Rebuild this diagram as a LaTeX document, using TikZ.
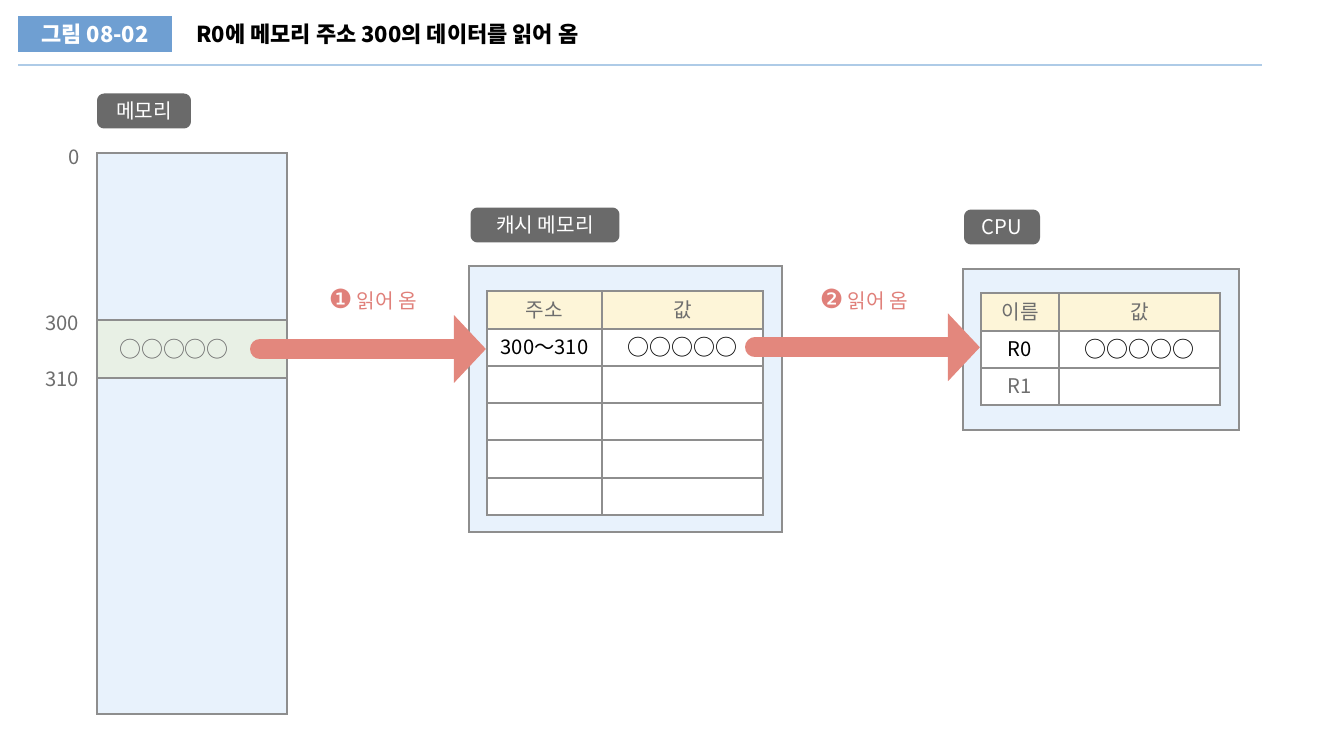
\documentclass[tikz,border=0pt]{standalone}
\usepackage{fontspec}
\setmainfont{Noto Sans CJK KR}
\newfontfamily\dingfont{DejaVu Sans}
\usetikzlibrary{positioning}
\usetikzlibrary{arrows.meta}

\definecolor{titleblue}{HTML}{6F9FD2}
\definecolor{ruleblue}{HTML}{AECBE7}
\definecolor{taggray}{HTML}{6A6A6A}
\definecolor{boxblue}{HTML}{E8F2FC}
\definecolor{bandgreen}{HTML}{E8F0E5}
\definecolor{headyellow}{HTML}{FDF5D8}
\definecolor{edgegray}{HTML}{8E8E8E}
\definecolor{arrowred}{HTML}{E3877D}
\definecolor{labelred}{HTML}{E0807A}
\definecolor{textgray}{HTML}{6E6E6E}

\tikzset{
  txt/.style={font=\fontsize{11.5}{13}\selectfont},
  tag/.style={txt,fill=taggray,text=white,rounded corners=4pt,minimum height=0.7cm,inner sep=0pt},
  box/.style={draw=edgegray,line width=1.3pt,fill=boxblue},
  cell/.style={txt,draw=edgegray,line width=1.2pt,fill=white,minimum height=0.746cm,inner sep=0pt},
  headcell/.style={cell,fill=headyellow,text=textgray},
  bigarrow/.style={arrowred,line width=0.4cm,line cap=round,-{Triangle[length=0.64cm,width=1.32cm]}},
  steplabel/.style={txt,text=labelred}
}

\begin{document}
\begin{tikzpicture}[x=0.02cm,y=-0.02cm]
 \useasboundingbox (0,0) rectangle (1318,736);
 % title
 \node[fill=titleblue,text=white,font=\fontsize{12.5}{14}\selectfont\bfseries,minimum width=3.08cm,minimum height=0.72cm,inner sep=0pt] (figno) at (95,34) {그림 08-02};
 \node[anchor=west,font=\fontsize{12.5}{14}\selectfont\bfseries] (figtitle) at (190,34) {R0에 메모리 주소 300의 데이터를 읽어 옴};
 \draw[ruleblue,line width=1pt] (18,65) -- (1262,65);

 % memory
 \node[tag,minimum width=1.88cm] (memtag) at (144,111) {메모리};
 \draw[box] (97,153) rectangle (287,714);
 \draw[draw=edgegray,line width=1.3pt,fill=bandgreen] (97,320) rectangle (287,378);
 \node[txt,text=textgray] (addr0) at (74,157) {0};
 \node[txt,text=textgray] (addr300) at (62,323) {300};
 \node[txt,text=textgray] (addr310) at (62,379) {310};
 \node[txt,text=textgray,font=\fontsize{12.5}{14}\selectfont] (memval) at (174,349) {○○○○○};

 % cache memory
 \node[tag,minimum width=2.98cm] (cachetag) at (545,225) {캐시 메모리};
 \draw[box] (469,266) rectangle (782,532);
 \node[headcell,minimum width=2.3cm] (ch1) at (544.5,310) {주소};
 \node[headcell,minimum width=3.22cm] (ch2) at (682.5,310) {값};
 \node[cell,minimum width=2.3cm] (ca1) at (544.5,347.3) {300～310};
 \node[cell,minimum width=3.22cm,font=\fontsize{12.5}{14}\selectfont] (cb1) at (682.5,347.3) {○○○○○};
 \foreach \r in {2,...,5}{
  \node[cell,minimum width=2.3cm] (ca\r) at (544.5,{291+37.33*(\r+0.5)}) {};
  \node[cell,minimum width=3.22cm] (cb\r) at (682.5,{291+37.33*(\r+0.5)}) {};
 }

 % cpu
 \node[tag,minimum width=1.52cm] (cputag) at (1002,227) {CPU};
 \draw[box] (963,269) rectangle (1239,430);
 \node[headcell,minimum width=1.56cm] (rh1) at (1020,312) {이름};
 \node[headcell,minimum width=3.22cm] (rh2) at (1139.5,312) {값};
 \node[cell,minimum width=1.56cm] (ra1) at (1020,349.5) {R0};
 \node[cell,minimum width=3.22cm,font=\fontsize{12.5}{14}\selectfont] (rb1) at (1139.5,349.5) {○○○○○};
 \node[cell,minimum width=1.56cm,text=textgray] (ra2) at (1020,386.5) {R1};
 \node[cell,minimum width=3.22cm] (rb2) at (1139.5,386.5) {};

 % arrows
 \coordinate (a1s) at (260,349);
 \coordinate (a2s) at (755,347.3);
 \draw[bigarrow] (a1s) -- (a1s -| ca1.west);
 \draw[bigarrow] (a2s) -- (a2s -| ra1.west);
 \node[steplabel] (step1) at (373,300) {{\dingfont\fontsize{15}{15}\selectfont ❶} 읽어 옴};
 \node[steplabel] (step2) at (864,300) {{\dingfont\fontsize{15}{15}\selectfont ❷} 읽어 옴};
\end{tikzpicture}
\end{document}
